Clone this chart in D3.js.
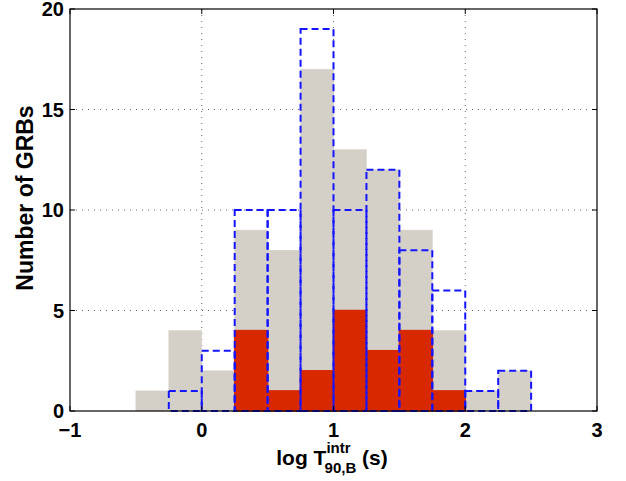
<!DOCTYPE html>
<html><head><meta charset="utf-8">
<script src="https://cdn.jsdelivr.net/npm/d3@7"></script>
<style>body{margin:0;background:#fff}svg{display:block}text{font-family:"Liberation Sans",Arial,sans-serif;font-weight:bold}</style>
</head><body><svg id="c" width="626" height="481"></svg>
<script>
const binStarts = [-1,-0.75,-0.5,-0.25,0,0.25,0.5,0.75,1,1.25,1.5,1.75,2,2.25,2.5,2.75];
const binWidth = 0.25;
const grayCounts = [0,0,1,4,2,9,8,17,13,12,9,4,1,2,0,0];
const redCounts  = [0,0,0,0,0,4,1,2,5,3,4,1,0,0,0,0];
const blueCounts = [0,0,0,1,3,10,10,19,10,12,8,6,1,2,0,0];
const xTicks = [-1,0,1,2,3];
const yTicks = [0,5,10,15,20];

const svg = d3.select("#c");
const L=70,R=597,T=9,B=411;
const x = d3.scaleLinear().domain([-1,3]).range([L,R]);
const y = d3.scaleLinear().domain([0,20]).range([B,T]);

// grid
const g = svg.append("g");
g.selectAll(".gx").data(xTicks.slice(1,-1)).join("line")
  .attr("x1",d=>x(d)).attr("x2",d=>x(d)).attr("y1",T).attr("y2",B)
  .attr("stroke","#666").attr("stroke-width",1).attr("stroke-dasharray","1,5");
g.selectAll(".gy").data(yTicks.slice(1,-1)).join("line")
  .attr("y1",d=>y(d)).attr("y2",d=>y(d)).attr("x1",L).attr("x2",R)
  .attr("stroke","#666").attr("stroke-width",1).attr("stroke-dasharray","1,5");

function bars(counts, fill, stroke, dash, sw){
  svg.append("g").selectAll("rect").data(binStarts).join("rect")
    .attr("x",d=>x(d)).attr("width",x(binWidth)-x(0))
    .attr("y",(d,i)=>y(counts[i])).attr("height",(d,i)=>y(0)-y(counts[i]))
    .attr("fill",fill).attr("stroke",stroke).attr("stroke-width",sw)
    .attr("stroke-dasharray",dash);
}
bars(grayCounts,"#d4d0c8","#d4d0c8",null,0.5);
bars(redCounts,"#d82800","#d82800",null,1.5);
bars(blueCounts,"none","#1414ff","7,4",2);

// frame
svg.append("rect").attr("x",L).attr("y",T).attr("width",R-L).attr("height",B-T)
  .attr("fill","none").attr("stroke","#000").attr("stroke-width",1.2);

// ticks inward
const tl=5;
xTicks.forEach(t=>{
  svg.append("line").attr("x1",x(t)).attr("x2",x(t)).attr("y1",B).attr("y2",B-tl).attr("stroke","#000");
  svg.append("line").attr("x1",x(t)).attr("x2",x(t)).attr("y1",T).attr("y2",T+tl).attr("stroke","#000");
});
yTicks.forEach(t=>{
  svg.append("line").attr("y1",y(t)).attr("y2",y(t)).attr("x1",L).attr("x2",L+tl).attr("stroke","#000");
  svg.append("line").attr("y1",y(t)).attr("y2",y(t)).attr("x1",R).attr("x2",R-tl).attr("stroke","#000");
});

// labels
const fmt = d=> d<0 ? "\u2212"+Math.abs(d) : String(d);
svg.selectAll(".xl").data(xTicks).join("text")
  .attr("x",d=>x(d)).attr("y",437).attr("text-anchor","middle")
  .attr("font-size",20).text(fmt);
svg.selectAll(".yl").data(yTicks).join("text")
  .attr("x",64).attr("y",d=>y(d)+7).attr("text-anchor","end")
  .attr("font-size",20).text(fmt);

svg.append("text").attr("transform","translate(33,198) rotate(-90)")
  .attr("text-anchor","middle").attr("font-size",23).text("Number of GRBs");

const xl = svg.append("text").attr("x",332).attr("y",465).attr("text-anchor","middle").attr("font-size",21);
xl.append("tspan").text("log T");
xl.append("tspan").attr("font-size",15).attr("dy",-12).text("intr");
xl.append("tspan").attr("font-size",15).attr("dx",-26).attr("dy",20).text("90,B");
xl.append("tspan").attr("dy",-8).text(" (s)");
</script></body></html>
